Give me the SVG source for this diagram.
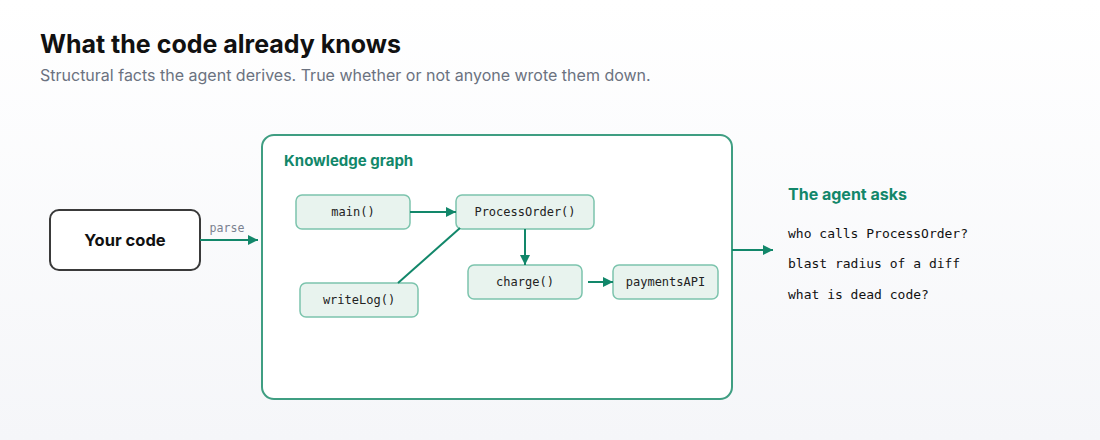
<svg xmlns="http://www.w3.org/2000/svg" width="1100" height="440" viewBox="0 0 1100 440">
<defs>
<linearGradient id="bg" x1="0" y1="0" x2="0" y2="1">
<stop offset="0" stop-color="#ffffff"/>
<stop offset="1" stop-color="#f5f6f9"/>
</linearGradient>
<marker id="ah" viewBox="0 0 10 10" refX="10" refY="5" markerWidth="10" markerHeight="10" markerUnits="userSpaceOnUse" orient="auto">
<path d="M0,0 L10,5 L0,10 Z" fill="#12876a"/>
</marker>
<style>
.title{font-family:Inter,"Liberation Sans",sans-serif;font-weight:700;font-size:25px;fill:#111111}
.sub{font-family:Inter,"Liberation Sans",sans-serif;font-size:16px;fill:#6b7280}
.head{font-family:Inter,"Liberation Sans",sans-serif;font-weight:700;fill:#12876a}
.node rect{fill:#e8f3ee;stroke:#7cc4ad;stroke-width:1.5}
.node text{font-family:"DejaVu Sans Mono",monospace;font-size:12px;fill:#222222;text-anchor:middle}
.edge{stroke:#12876a;stroke-width:2;fill:none}
.mono{font-family:"DejaVu Sans Mono",monospace;font-size:13px;fill:#111111}
</style>
</defs>
<rect x="0" y="0" width="1100" height="440" fill="url(#bg)"/>
<text class="title" x="40" y="53">What the code already knows</text>
<text class="sub" x="40" y="81">Structural facts the agent derives. True whether or not anyone wrote them down.</text>

<g id="your-code">
<rect x="50" y="210" width="150" height="60" rx="9" fill="#ffffff" stroke="#3a3a3a" stroke-width="2"/>
<text x="125" y="246" text-anchor="middle" font-family="Inter,'Liberation Sans',sans-serif" font-weight="700" font-size="16.5" fill="#111111">Your code</text>
</g>

<g id="knowledge-graph">
<rect x="262" y="135" width="470" height="264" rx="12" fill="#ffffff" stroke="#3f9e82" stroke-width="2"/>
<text class="head" x="284" y="166" font-size="15">Knowledge graph</text>
</g>

<g id="node-main" class="node"><rect x="296" y="195" width="114" height="34" rx="6"/><text x="353" y="216">main()</text></g>
<g id="node-processorder" class="node"><rect x="456" y="195" width="138" height="34" rx="6"/><text x="525" y="216">ProcessOrder()</text></g>
<g id="node-charge" class="node"><rect x="468" y="265" width="114" height="34" rx="6"/><text x="525" y="286">charge()</text></g>
<g id="node-payments" class="node"><rect x="613" y="265" width="105" height="34" rx="6"/><text x="665.5" y="286">paymentsAPI</text></g>
<g id="node-writelog" class="node"><rect x="300" y="283" width="118" height="34" rx="6"/><text x="359" y="304">writeLog()</text></g>

<g id="agent-asks">
<text class="head" x="788" y="200" font-size="16">The agent asks</text>
<text class="mono" x="788" y="238">who calls ProcessOrder?</text>
<text class="mono" x="788" y="268">blast radius of a diff</text>
<text class="mono" x="788" y="299">what is dead code?</text>
</g>

<g id="connectors">
<line class="edge" x1="200" y1="240" x2="258" y2="240" marker-end="url(#ah)"/>
<text x="227" y="232" text-anchor="middle" font-family="'DejaVu Sans Mono',monospace" font-size="11.6" fill="#7a8190">parse</text>
<line class="edge" x1="410" y1="212" x2="456" y2="212" marker-end="url(#ah)"/>
<line class="edge" x1="525" y1="229" x2="525" y2="265" marker-end="url(#ah)"/>
<line class="edge" x1="588" y1="282" x2="613" y2="282" marker-end="url(#ah)"/>
<line class="edge" x1="398" y1="283" x2="460" y2="228"/>
<line class="edge" x1="732" y1="250" x2="773" y2="250" marker-end="url(#ah)"/>
</g>
</svg>
